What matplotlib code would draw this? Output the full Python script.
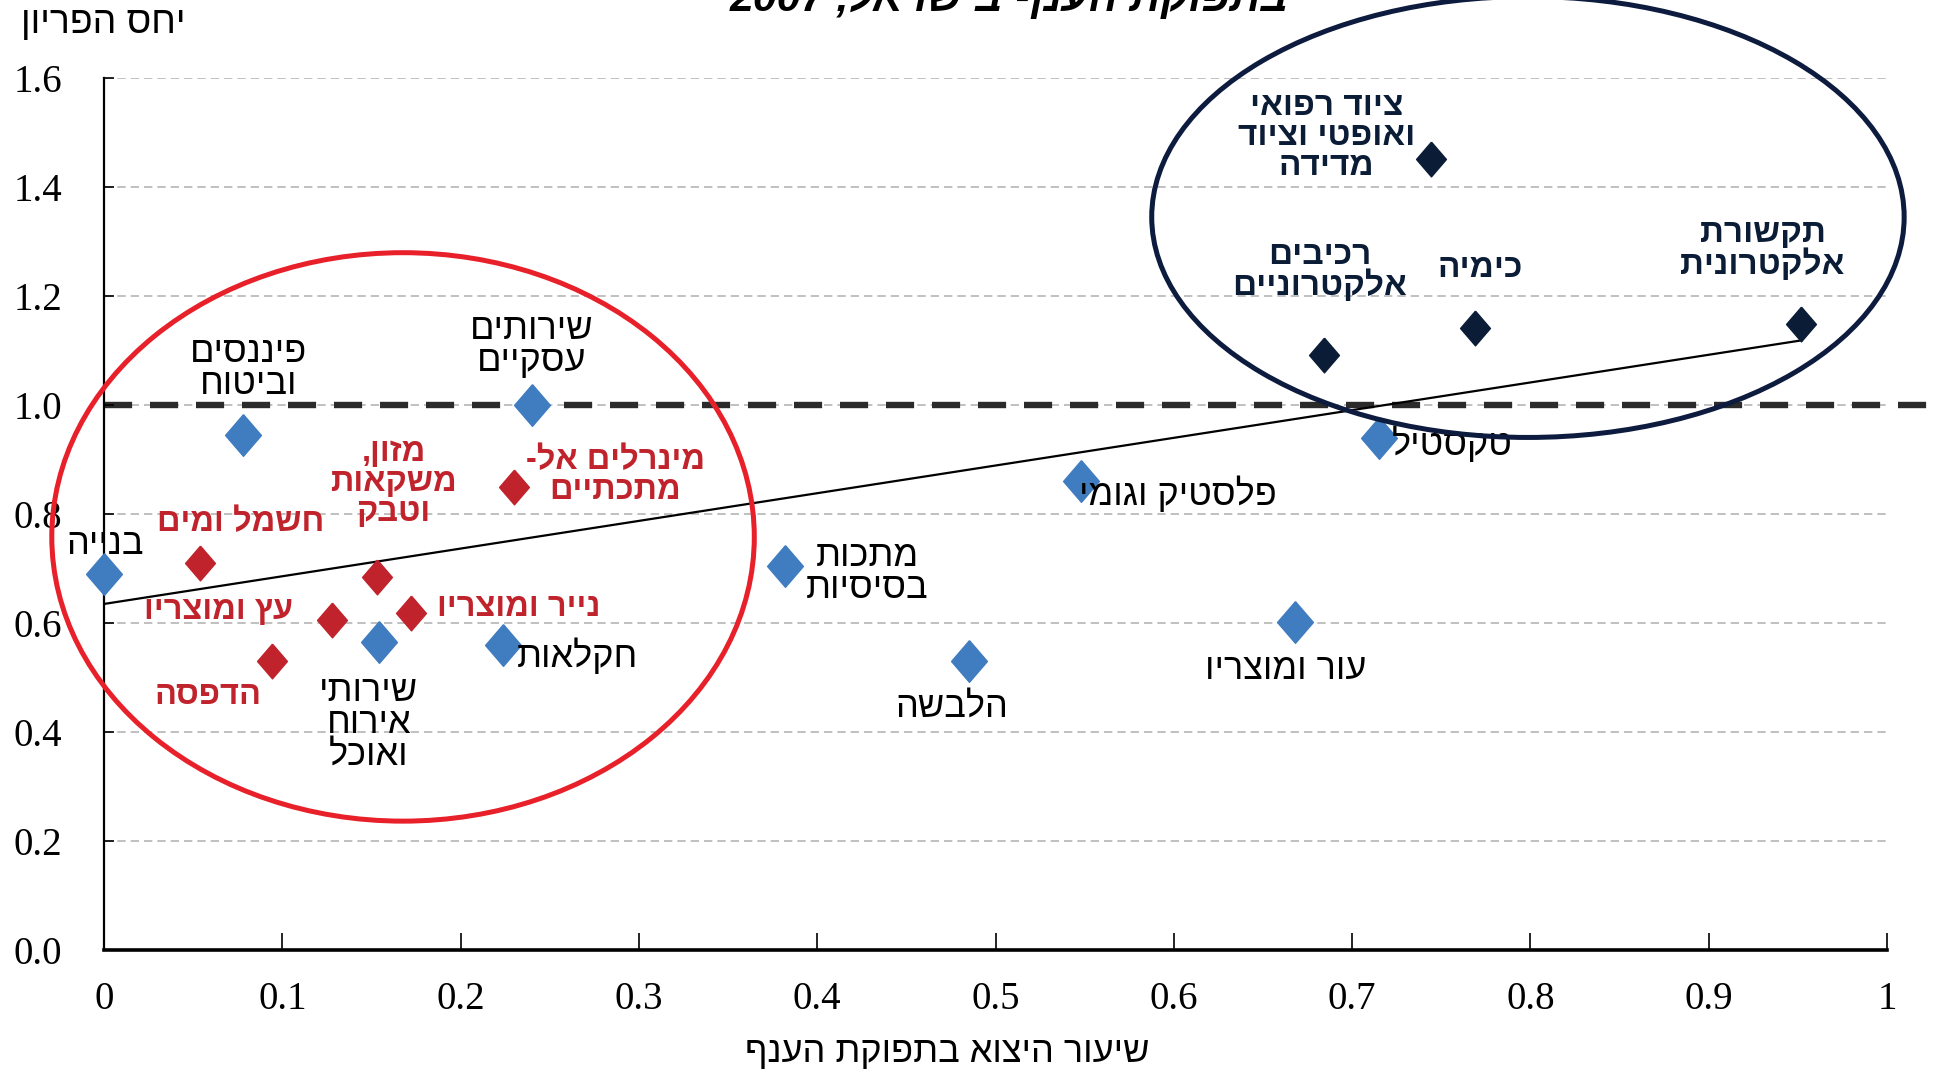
import re
import numpy as np
import matplotlib
matplotlib.use("Agg")
import matplotlib.pyplot as plt
from matplotlib.patches import Ellipse

# export share of branch output (x) vs. productivity ratio (y), Israel 2007
blue_names = ["בנייה", "פיננסים\nוביטוח", "שירותים\nעסקיים", "שירותי\nאירוח\nואוכל", "חקלאות",
              "מתכות\nבסיסיות", "הלבשה", "פלסטיק וגומי", "טקסטיל", "עור ומוצריו"]
blue_x = [0.0, 0.078, 0.240, 0.154, 0.224, 0.382, 0.485, 0.548, 0.715, 0.668]
blue_y = [0.69, 0.945, 1.0, 0.566, 0.559, 0.705, 0.530, 0.861, 0.939, 0.602]

red_names = ["חשמל ומים", "מזון,\nמשקאות\nוטבק", "מינרלים אל-\nמתכתיים", "עץ ומוצריו",
             "נייר ומוצריו", "הדפסה"]
red_x = [0.054, 0.153, 0.230, 0.128, 0.172, 0.094]
red_y = [0.711, 0.684, 0.850, 0.605, 0.618, 0.530]

navy_names = ["ציוד רפואי\nואופטי וציוד\nמדידה", "רכיבים\nאלקטרוניים", "כימיה",
              "תקשורת\nאלקטרונית"]
navy_x = [0.744, 0.684, 0.769, 0.952]
navy_y = [1.452, 1.091, 1.141, 1.148]

# trend line as drawn in the source chart (slope, intercept)
trend_coef = [0.508, 0.635]

y_ticks = [0.0, 0.2, 0.4, 0.6, 0.8, 1.0, 1.2, 1.4, 1.6]
x_ticks = [0, 0.1, 0.2, 0.3, 0.4, 0.5, 0.6, 0.7, 0.8, 0.9, 1]
x_tick_labels = ["0", "0.1", "0.2", "0.3", "0.4", "0.5", "0.6", "0.7", "0.8", "0.9", "1"]

title = "בתפוקת הענף בישראל, 2007"
y_title = "יחס הפריון"
x_title = "שיעור היצוא בתפוקת הענף"

# label offsets from each marker, in points
blue_off = [(1, 21), (4, 48), (0, 43), (-7, -59), (53, -8), (59, -5), (-12, -33), (70, -10),
            (53, -5), (-7, -34)]
red_off = [(29, 29), (12, 68), (73, 8), (-82, 7), (78, 4), (-46, -25)]
navy_off = [(-75, 16), (-3, 61), (4, 43), (-28, 54)]

BLUE = "#3F7CC0"
RED = "#C0232B"
NAVY = "#0B1C36"


def rtl(s):
    # matplotlib has no bidi, so put hebrew in visual order (keep digit runs)
    out = []
    for line in s.split("\n"):
        toks = re.findall(r"[0-9]+|.", line)
        out.append("".join(reversed(toks)))
    return "\n".join(out)


diamond = [(0, 1), (0.86, 0), (0, -1), (-0.86, 0), (0, 1)]

fig = plt.figure(figsize=(19.41, 10.73), dpi=100)
ax = fig.add_axes([0.0536, 0.1146, 0.9186, 0.8127])
ax.set_xlim(0, 1)
ax.set_ylim(0, 1.6)

for yv in y_ticks[1:]:
    ax.axhline(yv, color="#B5B5B5", lw=1.2, dashes=(5, 3), zorder=0)

# y = 1 reference line, runs past the axis
ax.plot([0, 1.027], [1, 1], color="#2B2B2B", lw=4.6, dashes=(4.4, 2.8), clip_on=False, zorder=1)

all_x = np.array(blue_x + red_x + navy_x)
fx = np.array([0, all_x.max()])
ax.plot(fx, np.polyval(trend_coef, fx), color="black", lw=1.6, zorder=2)

ax.plot(blue_x, blue_y, ls="none", marker=diamond, ms=30, color=BLUE, mec=BLUE, zorder=3, clip_on=False)
ax.plot(red_x, red_y, ls="none", marker=diamond, ms=25, color=RED, mec=RED, zorder=3)
ax.plot(navy_x, navy_y, ls="none", marker=diamond, ms=25, color=NAVY, mec=NAVY, zorder=3)

groups = [
    (blue_names, blue_x, blue_y, blue_off, "black", "normal", 26, 0.88),
    (red_names, red_x, red_y, red_off, RED, "bold", 23.5, 0.95),
    (navy_names, navy_x, navy_y, navy_off, NAVY, "bold", 24, 0.95),
]
for names, xs, ys, offs, col, wt, fs, lsp in groups:
    for n, xv, yv, (dx, dy) in zip(names, xs, ys, offs):
        ax.annotate(rtl(n), (xv, yv), xytext=(dx, dy), textcoords="offset points",
                    ha="center", va="center", multialignment="center", fontsize=fs,
                    color=col, fontweight=wt, linespacing=lsp,
                    family=["Liberation Sans", "DejaVu Sans"], zorder=4)

ax.add_patch(Ellipse((0.1677, 0.758), 0.394, 1.043, fill=False, ec="#E8202A", lw=3.6,
                     clip_on=False, zorder=5))
ax.add_patch(Ellipse((0.7986, 1.345), 0.422, 0.809, fill=False, ec="#0D1B3E", lw=3.6,
                     clip_on=False, zorder=5))

for s in ["top", "right"]:
    ax.spines[s].set_visible(False)
ax.spines["left"].set_linewidth(1.6)
ax.spines["bottom"].set_linewidth(2.6)
ax.set_yticks(y_ticks)
ax.set_yticklabels([f"{v:.1f}" for v in y_ticks])
ax.set_xticks(x_ticks)
ax.set_xticklabels(x_tick_labels)
ax.tick_params(axis="y", direction="in", length=7, width=1.2, pad=30)
ax.tick_params(axis="x", direction="in", length=12, width=1.2, pad=22)
for lab in ax.get_xticklabels() + ax.get_yticklabels():
    lab.set_family("Liberation Serif")
    lab.set_fontsize(28)

fig.text(0.053, 0.979, rtl(y_title), ha="center", va="center", fontsize=27,
         family=["Liberation Sans", "DejaVu Sans"])
fig.text(0.488, 0.019, rtl(x_title), ha="center", va="center", fontsize=26,
         family=["Liberation Sans", "DejaVu Sans"])
fig.text(0.52, 1 - 11 / 1073, rtl(title), ha="center", va="baseline", fontsize=31,
         fontweight="bold", style="italic", family=["Liberation Sans", "DejaVu Sans"])

fig.savefig("out.png", dpi=100)
